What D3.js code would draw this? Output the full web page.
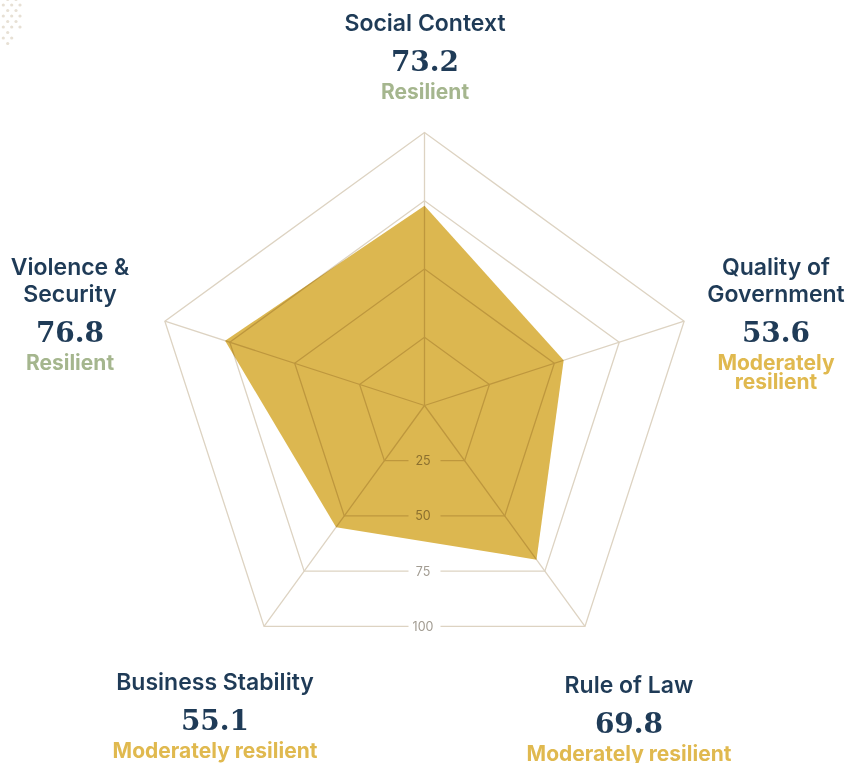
<!DOCTYPE html>
<html>
<head>
<meta charset="utf-8">
<script src="https://cdn.jsdelivr.net/npm/d3@7"></script>
<style>
  html, body { margin: 0; padding: 0; background: #ffffff; }
  svg { display: block; }
  .grid { mix-blend-mode: multiply; }
</style>
</head>
<body>
<svg id="chart" width="855" height="763"></svg>
<script>
// data
var axes = ["Social Context", "Quality of Government", "Rule of Law", "Business Stability", "Violence & Security"];
var scores = [73.2, 53.6, 69.8, 55.1, 76.8];
var statuses = ["Resilient", "Moderately resilient", "Moderately resilient", "Moderately resilient", "Resilient"];
var ticks = [25, 50, 75, 100];

var status_colors = {"Resilient": "#a5b68e", "Moderately resilient": "#e0b94f"};

// layout
var width = 855, height = 763;
var cx = 424.5, cy = 405.5, radius = 273;
var fill_color = "#dcb750";
var grid_color = "#ddd3c2";
var navy = "#1f3b57";

// where each label block sits (centre x, first title baseline) and how wide it may wrap
var label_pos = [
  {x: 425, y: 31, wrap: 400},
  {x: 776, y: 275, wrap: 150},
  {x: 629, y: 693, wrap: 400},
  {x: 215, y: 690, wrap: 400},
  {x: 70, y: 275, wrap: 150}
];

var svg = d3.select("#chart");

var r = d3.scaleLinear().domain([0, 100]).range([0, radius]);
var angle = d3.scalePoint().domain(axes).range([0, 2 * Math.PI * (axes.length - 1) / axes.length]);

function point(name, v){
    var a = angle(name);
    return [cx + r(v) * Math.sin(a), cy - r(v) * Math.cos(a)];
}

/*********
*decor
*********/
var dots = [];
for (var row = 0; row < 9; row++){
    var cols = (row % 2 == 0) ? [7.7, 16] : [3.3, 11.7, 20];
    if (row > 5) cols = cols.slice(0, cols.length - 1);
    for (var c of cols){
        dots.push({x: c, y: -0.5 + row * 5.5});
    }
}
svg.append("g")
  .attr("class", "dots")
  .selectAll("circle")
  .data(dots)
  .enter()
  .append("circle")
  .attr("cx", function(d){ return d.x })
  .attr("cy", function(d){ return d.y })
  .attr("r", 1.6)
  .attr("fill", "#e7e0d4");

/*********
*shape
*********/
var line = d3.line();

svg.append("path")
  .attr("class", "area")
  .attr("d", line(axes.map(function(a, i){ return point(a, scores[i]) })) + "Z")
  .attr("fill", fill_color);

/*********
*grille
*********/
var grid = svg.append("g").attr("class", "grid");

grid.selectAll(".spoke")
  .data(axes)
  .enter()
  .append("line")
  .attr("class", "spoke")
  .attr("x1", cx)
  .attr("y1", cy)
  .attr("x2", function(a){ return point(a, 100)[0] })
  .attr("y2", function(a){ return point(a, 100)[1] })
  .attr("stroke", grid_color)
  .attr("stroke-width", 1.3);

var gap = 16;

grid.selectAll(".level")
  .data(ticks)
  .enter()
  .append("path")
  .attr("class", "level")
  .attr("fill", "none")
  .attr("stroke", grid_color)
  .attr("stroke-width", 1.3)
  .attr("d", function(t){
      // open polygon starting and ending at the gap on the bottom edge
      var pts = axes.map(function(a){ return point(a, t) });
      var yb = pts[2][1];
      var path = [[cx + gap, yb], pts[2], pts[1], pts[0], pts[4], pts[3], [cx - gap, yb]];
      return line(path);
  });

grid.selectAll(".tick")
  .data(ticks)
  .enter()
  .append("text")
  .attr("class", "tick")
  .attr("x", cx - 1.5)
  .attr("y", function(t){ return point(axes[2], t)[1] })
  .attr("dy", "0.35em")
  .attr("text-anchor", "middle")
  .attr("font-family", "Inter, 'Noto Sans', sans-serif")
  .attr("font-size", 12.5)
  .attr("fill", "#a29c92")
  .text(function(t){ return t });

/*********
*labels
*********/
function wrap_words(sel, text, max){
    var words = text.split(" ");
    var lines = [];
    var cur = "";
    var probe = sel.append("text").attr("visibility", "hidden");
    for (var w of words){
        var test = cur ? cur + " " + w : w;
        probe.text(test);
        if (cur && probe.node().getComputedTextLength() > max){
            lines.push(cur);
            cur = w;
        } else {
            cur = test;
        }
    }
    lines.push(cur);
    probe.remove();
    return lines;
}

var labels = svg.append("g").attr("class", "labels");

axes.forEach(function(a, i){
    var pos = label_pos[i];
    var g = labels.append("g")
      .attr("class", "label")
      .attr("text-anchor", "middle");

    var tg = g.append("g")
      .attr("font-family", "Inter, 'Noto Sans', sans-serif")
      .attr("font-weight", 600)
      .attr("font-size", 23)
      .attr("fill", navy);
    var tlines = wrap_words(tg, a, pos.wrap);
    var y = pos.y;
    tlines.forEach(function(l, k){
        tg.append("text").attr("x", pos.x).attr("y", y + k * 27).text(l);
    });
    y += (tlines.length - 1) * 27 + 40;

    g.append("text")
      .attr("x", pos.x)
      .attr("y", y)
      .attr("font-family", "'DejaVu Serif', serif")
      .attr("font-weight", 700)
      .attr("font-size", 28)
      .attr("fill", navy)
      .text(d3.format(".1f")(scores[i]));
    y += 28;

    var sg = g.append("g")
      .attr("font-family", "Inter, 'Noto Sans', sans-serif")
      .attr("font-weight", 700)
      .attr("font-size", 21)
      .attr("fill", status_colors[statuses[i]]);
    var slines = wrap_words(sg, statuses[i], pos.wrap);
    slines.forEach(function(l, k){
        sg.append("text").attr("x", pos.x).attr("y", y + k * 19).text(l);
    });
});
</script>
</body>
</html>
